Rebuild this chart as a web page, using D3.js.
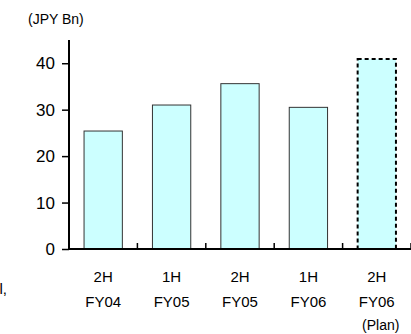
<!DOCTYPE html>
<html lang="en">
<head>
<meta charset="UTF-8">
<title>JPY Bn by half year</title>
<script src="https://d3js.org/d3.v7.min.js"></script>
<style>
    body { margin: 0; background: #fff; }
    svg text { font-family: Arial, "Liberation Sans", sans-serif; fill: #000; }
</style>
</head>
<body>
<svg width="411" height="334"></svg>
<script>
    // chart data
    const halves = ["2H", "1H", "2H", "1H", "2H"];
    const years = ["FY04", "FY05", "FY05", "FY06", "FY06"];
    const values = [25.4, 31.0, 35.6, 30.5, 40.9];
    const isPlan = [false, false, false, false, true];
    const yTicks = [0, 10, 20, 30, 40];
    const unitLabel = "(JPY Bn)";
    const planLabel = "(Plan)";

    const svg = d3.select("svg");
    const plotLeft = 69, plotRight = 411, plotTop = 40, plotBottom = 249;

    const x = d3.scaleBand()
        .domain(d3.range(values.length))
        .range([plotLeft, plotRight])
        .paddingInner(0.44)
        .paddingOuter(0.22);

    const y = d3.scaleLinear().domain([0, 45]).range([plotBottom, plotTop]);

    // bars
    svg.selectAll(".bar")
        .data(values)
        .join("rect")
        .attr("class", "bar")
        .attr("x", (d, i) => x(i))
        .attr("y", d => y(d))
        .attr("width", x.bandwidth())
        .attr("height", d => y(0) - y(d))
        .attr("fill", "#ccffff")
        .attr("stroke", (d, i) => isPlan[i] ? "none" : "#333")
        .attr("stroke-width", 1);

    // dashed outline for the plan bar
    values.forEach((d, i) => {
        if (!isPlan[i]) return;
        svg.append("rect")
            .attr("x", x(i))
            .attr("y", y(d))
            .attr("width", x.bandwidth())
            .attr("height", y(0) - y(d))
            .attr("fill", "none")
            .attr("stroke", "#000")
            .attr("stroke-width", 2)
            .attr("stroke-dasharray", "4,3");
    });

    // y axis
    const yAxis = svg.append("g")
        .attr("transform", `translate(${plotLeft},0)`)
        .call(d3.axisLeft(y).tickValues(yTicks).tickSize(7).tickPadding(7));
    yAxis.select(".domain").remove();
    yAxis.selectAll("line").attr("stroke", "#000").attr("stroke-width", 1.5);
    yAxis.selectAll("text").style("font-size", "17px").style("font-family", "Arial, 'Liberation Sans', sans-serif");
    svg.append("line")
        .attr("x1", plotLeft).attr("x2", plotLeft)
        .attr("y1", plotTop).attr("y2", plotBottom)
        .attr("stroke", "#000").attr("stroke-width", 2);

    // x axis line with category separators pointing up
    svg.append("line")
        .attr("x1", plotLeft).attr("x2", plotRight)
        .attr("y1", plotBottom).attr("y2", plotBottom)
        .attr("stroke", "#000").attr("stroke-width", 2);
    const step = x.step();
    d3.range(1, values.length + 1).forEach(k => {
        const xp = x(0) - x.paddingOuter() * step + k * step;
        svg.append("line")
            .attr("x1", xp).attr("x2", xp)
            .attr("y1", plotBottom - 6).attr("y2", plotBottom)
            .attr("stroke", "#000").attr("stroke-width", 1.5);
    });

    // category labels
    const cx = i => x(i) + x.bandwidth() / 2;
    svg.selectAll(".half")
        .data(halves)
        .join("text")
        .attr("class", "half")
        .attr("x", (d, i) => cx(i))
        .attr("y", 282)
        .attr("text-anchor", "middle")
        .style("font-size", "15px")
        .text(d => d);
    svg.selectAll(".year")
        .data(years)
        .join("text")
        .attr("class", "year")
        .attr("x", (d, i) => cx(i))
        .attr("y", 307)
        .attr("text-anchor", "middle")
        .style("font-size", "15px")
        .text(d => d);
    isPlan.forEach((p, i) => {
        if (!p) return;
        svg.append("text")
            .attr("x", cx(i) + 4)
            .attr("y", 330)
            .attr("text-anchor", "middle")
            .style("font-size", "14px")
            .text(planLabel);
    });

    // unit label
    svg.append("text")
        .attr("x", 28)
        .attr("y", 24)
        .style("font-size", "14px")
        .text(unitLabel);

    // cut-off fragment at the left edge
    svg.append("text")
        .attr("x", 7)
        .attr("y", 294)
        .attr("text-anchor", "end")
        .style("font-size", "15px")
        .text("l,");
</script>
</body>
</html>
